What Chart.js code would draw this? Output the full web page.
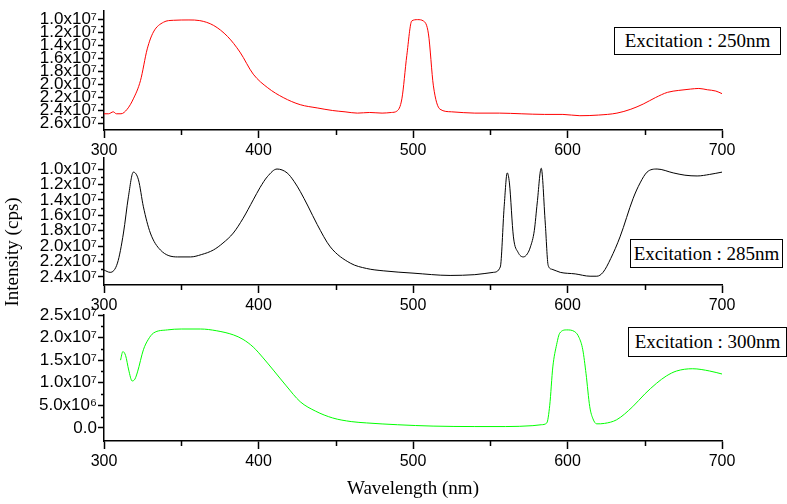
<!DOCTYPE html>
<html>
<head>
<meta charset="utf-8">
<script src="https://cdn.jsdelivr.net/npm/chart.js@4.4.1/dist/chart.umd.min.js"></script>
<style>
  body { margin: 0; background: #fff; }
  #wrap { position: relative; width: 787px; height: 504px; overflow: hidden; }
  #wrap canvas { position: absolute; left: 0; top: 0; }
  .box {
    position: absolute; box-sizing: border-box; border: 1px solid #000;
    font: 19px "Liberation Serif", "Times New Roman", serif; color: #000;
    text-align: center; white-space: nowrap; background: #fff;
  }
  #ylab {
    position: absolute; width: 140px; height: 22px; line-height: 22px;
    left: -58px; top: 241px; text-align: center; transform: rotate(-90deg);
    font: 19px "Liberation Serif", "Times New Roman", serif; color: #000;
  }
</style>
</head>
<body>
<div id="wrap">
  <canvas id="c250" width="787" height="504"></canvas>
  <canvas id="c285" width="787" height="504"></canvas>
  <canvas id="c300" width="787" height="504"></canvas>
  <div class="box" style="left:614px;top:27px;width:167px;height:28px;line-height:26px;">Excitation : 250nm</div>
  <div class="box" style="left:630px;top:239px;width:153px;height:29px;line-height:27px;">Excitation : 285nm</div>
  <div class="box" style="left:628px;top:327px;width:159px;height:30px;line-height:28px;">Excitation : 300nm</div>
  <div id="ylab">Intensity (cps)</div>
</div>
<script>
// wavelength ticks (nm)
const xMajor = [300, 400, 500, 600, 700];
const xMinor = [350, 450, 550, 650];

// intensities below are in units of 10^7 cps

// excitation 250 nm (top panel, red)
const wl250 = [300, 303, 306, 308, 311, 315, 319, 323.6, 328, 332, 338.5, 345, 355, 362, 371, 380, 388, 396.6, 406, 416,
  427, 438, 448, 456, 464, 472, 480, 486, 489.5, 492.8, 496, 499.2, 503, 506.7, 510, 513.2, 517.5, 525, 540, 556,
  570, 585, 597, 608, 620, 632, 641, 649, 657, 664.7, 672, 679.5, 685, 690.5, 696, 700];
const int250 = [2.45, 2.45, 2.42, 2.45, 2.45, 2.38, 2.22, 1.94, 1.45, 1.19, 1.04, 1.01, 1.005, 1.015, 1.09, 1.26, 1.50, 1.84, 2.05, 2.20,
  2.31, 2.36, 2.40, 2.42, 2.44, 2.43, 2.44, 2.43, 2.41, 2.22, 1.55, 1.02, 1.00, 1.02, 1.22, 2.02, 2.38, 2.42, 2.44, 2.44,
  2.45, 2.46, 2.46, 2.48, 2.47, 2.44, 2.38, 2.30, 2.20, 2.12, 2.09, 2.07, 2.06, 2.08, 2.10, 2.14];
const yMajor250 = [1.0, 1.2, 1.4, 1.6, 1.8, 2.0, 2.2, 2.4, 2.6];
const yMinor250 = [1.1, 1.3, 1.5, 1.7, 1.9, 2.1, 2.3, 2.5];

// excitation 285 nm (middle panel, black)
const wl285 = [300, 304, 308.7, 312.6, 315.8, 319, 322.3, 325.5, 330, 336.5, 347.5, 356, 363, 370.8, 377, 383.7, 390, 396.6, 401, 405.7,
  412, 418.5, 423, 427, 432, 438, 446.5, 459.4, 470, 480.7, 500, 524, 540, 552, 556.5, 559, 561, 562.4, 565, 568,
  571.4, 574, 576, 578.5, 580.4, 583, 585.6, 587.5, 590, 595.3, 605, 614.6, 619, 623, 628, 634, 642.5, 647, 651.5, 658,
  668.4, 676, 683.9, 692, 700];
const int285 = [2.31, 2.34, 2.22, 1.83, 1.36, 1.04, 1.14, 1.49, 1.83, 2.05, 2.14, 2.14, 2.11, 2.05, 1.96, 1.83, 1.64, 1.40, 1.24, 1.10,
  1.00, 1.05, 1.16, 1.29, 1.48, 1.72, 2.01, 2.22, 2.29, 2.32, 2.35, 2.38, 2.37, 2.34, 2.27, 1.49, 1.05, 1.18, 1.88, 2.08,
  2.14, 2.10, 2.01, 1.80, 1.44, 0.99, 1.70, 2.25, 2.30, 2.34, 2.36, 2.39, 2.39, 2.34, 2.16, 1.88, 1.38, 1.18, 1.04, 1.00,
  1.05, 1.08, 1.09, 1.07, 1.04];
const yMajor285 = [1.0, 1.2, 1.4, 1.6, 1.8, 2.0, 2.2, 2.4];
const yMinor285 = [1.1, 1.3, 1.5, 1.7, 1.9, 2.1, 2.3];

// excitation 300 nm (bottom panel, green)
const wl300 = [310.7, 312.2, 314, 316, 318.2, 320, 321.7, 325.5, 328.5, 332, 341, 350, 362.4, 373, 383.7, 390, 396.6, 403, 409.6, 418,
  427, 437, 448, 460, 470, 490, 513, 540, 560, 577.6, 583, 586.6, 588.5, 590.5, 593, 595, 599.5, 604.7, 607.5, 609.9,
  612, 614.4, 616.5, 618.9, 624, 631.8, 642.2, 650, 657.7, 664, 670.6, 681, 692, 700.4];
const int300 = [1.50, 1.69, 1.60, 1.28, 1.04, 1.08, 1.24, 1.73, 1.95, 2.10, 2.17, 2.19, 2.19, 2.15, 2.06, 1.96, 1.79, 1.55, 1.28, 0.93,
  0.58, 0.37, 0.22, 0.14, 0.11, 0.07, 0.04, 0.03, 0.03, 0.05, 0.07, 0.11, 0.5, 1.35, 1.85, 2.10, 2.17, 2.13, 2.0, 1.73,
  1.2, 0.47, 0.2, 0.09, 0.10, 0.18, 0.47, 0.75, 0.99, 1.15, 1.26, 1.31, 1.26, 1.19];
const yMajor300 = [0, 0.5, 1.0, 1.5, 2.0, 2.5];
const yMinor300 = [0.25, 0.75, 1.25, 1.75, 2.25];

// 1.2 -> "1.2x10⁷", 0.5 -> "5.0x10⁶"
function sciLabel(v) {
  if (Math.abs(v) < 1e-9) return '0.0';
  if (v < 1) return (v * 10).toFixed(1) + 'x10\u2076';
  return v.toFixed(1) + 'x10\u2077';
}

// short ticks between the labelled ones
const minorTicks = {
  id: 'minorTicks',
  afterDraw(chart, args, opts) {
    const { ctx, scales: { x, y } } = chart;
    ctx.save();
    ctx.strokeStyle = '#000';
    ctx.lineWidth = 1.5;
    ctx.beginPath();
    (opts.x || []).forEach(v => {
      const px = Math.round(x.getPixelForValue(v)) + 0.5;
      ctx.moveTo(px, x.top);
      ctx.lineTo(px, x.top + 5);
    });
    (opts.y || []).forEach(v => {
      const py = Math.round(y.getPixelForValue(v)) + 0.5;
      ctx.moveTo(y.right - 3, py);
      ctx.lineTo(y.right, py);
    });
    ctx.stroke();
    ctx.restore();
  }
};

const xFont = { family: '"Liberation Sans", Arial, sans-serif', size: 16 };
const yFont = { family: '"Liberation Sans", Arial, sans-serif', size: 17 };

function makePanel(id, wl, vals, color, p) {
  const points = wl.map((w, i) => ({ x: w, y: vals[i] }));
  return new Chart(document.getElementById(id), {
    type: 'line',
    data: {
      datasets: [{
        data: points,
        borderColor: color,
        borderWidth: 1,
        pointRadius: 0,
        fill: false,
        cubicInterpolationMode: 'monotone'
      }]
    },
    options: {
      responsive: false,
      animation: false,
      events: [],
      layout: { padding: { top: p.top, bottom: p.bottom, left: 0, right: 65 } },
      plugins: {
        legend: { display: false },
        tooltip: { enabled: false },
        minorTicks: { x: xMinor, y: p.yMinor }
      },
      scales: {
        x: {
          type: 'linear',
          min: 300,
          max: 700,
          afterBuildTicks: axis => { axis.ticks = xMajor.map(v => ({ value: v })); },
          afterFit: axis => { axis.height = p.xHeight; },
          grid: { drawOnChartArea: false, drawTicks: true, tickLength: 8, tickColor: '#000', tickWidth: 1.5 },
          border: { display: true, color: '#000', width: 1.5 },
          ticks: { color: '#000', font: xFont, padding: 3, autoSkip: false, maxRotation: 0, callback: v => String(v) },
          title: p.xTitle ? {
            display: true, text: p.xTitle, color: '#000',
            font: { family: '"Liberation Serif", "Times New Roman", serif', size: 19 },
            padding: { top: 0, bottom: 4 }
          } : { display: false }
        },
        y: {
          type: 'linear',
          min: p.yMin,
          max: p.yMax,
          reverse: p.reverse,
          afterBuildTicks: axis => { axis.ticks = p.yMajor.map(v => ({ value: v })); },
          afterFit: axis => { axis.width = 104; },
          grid: { drawOnChartArea: false, drawTicks: true, tickLength: 6, tickColor: '#000', tickWidth: 1.5 },
          border: { display: true, color: '#000', width: 1.5 },
          ticks: { color: '#000', font: yFont, padding: 1, autoSkip: false, callback: v => sciLabel(v) }
        }
      }
    },
    plugins: [minorTicks]
  });
}

makePanel('c250', wl250, int250, '#ff0000', {
  top: 3, bottom: 344, xHeight: 30, yMin: 0.87, yMax: 2.70, reverse: true,
  yMajor: yMajor250, yMinor: yMinor250
});
makePanel('c285', wl285, int285, '#000000', {
  top: 158, bottom: 189, xHeight: 30, yMin: 0.857, yMax: 2.504, reverse: true,
  yMajor: yMajor285, yMinor: yMinor285
});
makePanel('c300', wl300, int300, '#00ff00', {
  top: 315, bottom: 0, xHeight: 63, yMin: -0.29, yMax: 2.5, reverse: false,
  yMajor: yMajor300, yMinor: yMinor300, xTitle: 'Wavelength (nm)'
});
</script>
</body>
</html>
